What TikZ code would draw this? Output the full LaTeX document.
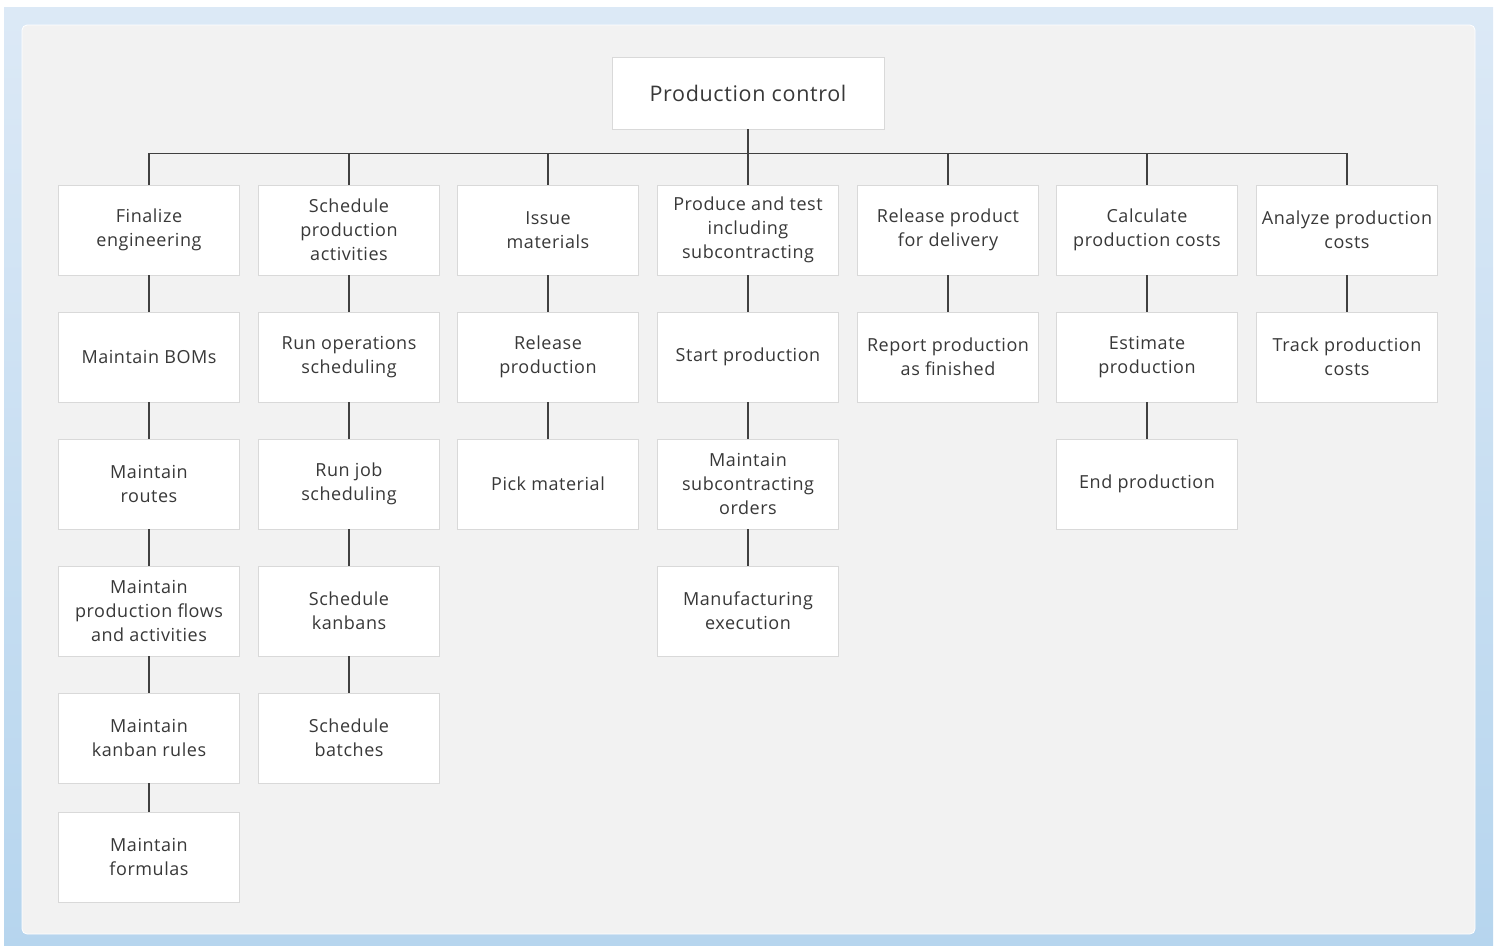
\documentclass[tikz,border=0pt]{standalone}
\usepackage{fontspec}
\setmainfont[LetterSpace=3]{Open Sans}
\definecolor{frametop}{HTML}{DCE9F6}
\definecolor{framebot}{HTML}{B6D5EE}
\definecolor{panel}{HTML}{F2F2F2}
\definecolor{boxline}{HTML}{D9D9D9}
\definecolor{wire}{HTML}{404040}
\definecolor{label}{HTML}{383838}
\begin{document}
\begin{tikzpicture}[x=1pt,y=-1pt,
  box/.style={draw=boxline,fill=white,line width=0.9pt,minimum width=181pt,minimum height=90pt,
    align=center,inner sep=1pt,text=label,font=\fontsize{18}{24}\selectfont},
  link/.style={draw=wire,line width=1.3pt}]
\useasboundingbox (0,0) rectangle (1499,945);
% frame and panel
\shade[top color=frametop,bottom color=framebot] (4,7) rectangle (1493,950);
\draw[white,line width=0.8pt,fill=panel,rounded corners=5pt] (22,25) rectangle (1475,934);
% root
\node[box,minimum width=272pt,minimum height=72pt,font=\fontsize{21.5}{26}\selectfont] (root) at (748,93) {Production control};
% column 1
\node[box] (a1) at (149,230) {Finalize\\engineering};
\node[box] (a2) at (149,357) {Maintain BOMs};
\node[box] (a3) at (149,484) {Maintain\\routes};
\node[box] (a4) at (149,611) {Maintain\\production flows\\and activities};
\node[box] (a5) at (149,738) {Maintain\\kanban rules};
\node[box] (a6) at (149,857) {Maintain\\formulas};
% column 2
\node[box] (b1) at (349,230) {Schedule\\production\\activities};
\node[box] (b2) at (349,357) {Run operations\\scheduling};
\node[box] (b3) at (349,484) {Run job\\scheduling};
\node[box] (b4) at (349,611) {Schedule\\kanbans};
\node[box] (b5) at (349,738) {Schedule\\batches};
% column 3
\node[box] (c1) at (548,230) {Issue\\materials};
\node[box] (c2) at (548,357) {Release\\production};
\node[box] (c3) at (548,484) {Pick material};
% column 4
\node[box] (d1) at (748,230) {Produce and test\\including\\subcontracting};
\node[box] (d2) at (748,357) {Start production};
\node[box] (d3) at (748,484) {Maintain\\subcontracting\\orders};
\node[box] (d4) at (748,611) {Manufacturing\\execution};
% column 5
\node[box] (e1) at (948,230) {Release product\\for delivery};
\node[box] (e2) at (948,357) {Report production\\as finished};
% column 6
\node[box] (f1) at (1147,230) {Calculate\\production costs};
\node[box] (f2) at (1147,357) {Estimate\\production};
\node[box] (f3) at (1147,484) {End production};
% column 7
\node[box] (g1) at (1347,230) {Analyze production\\costs};
\node[box] (g2) at (1347,357) {Track production\\costs};
% bus from root to the first row
\foreach \n in {a1,b1,c1,d1,e1,f1,g1}
  \draw[link] (root.south) -- ++(0,24) -| (\n.north);
% column links
\foreach \u/\v in {a1/a2,a2/a3,a3/a4,a4/a5,a5/a6,b1/b2,b2/b3,b3/b4,b4/b5,c1/c2,c2/c3,d1/d2,d2/d3,d3/d4,e1/e2,f1/f2,f2/f3,g1/g2}
  \draw[link] (\u.south) -- (\v.north);
\end{tikzpicture}
\end{document}
